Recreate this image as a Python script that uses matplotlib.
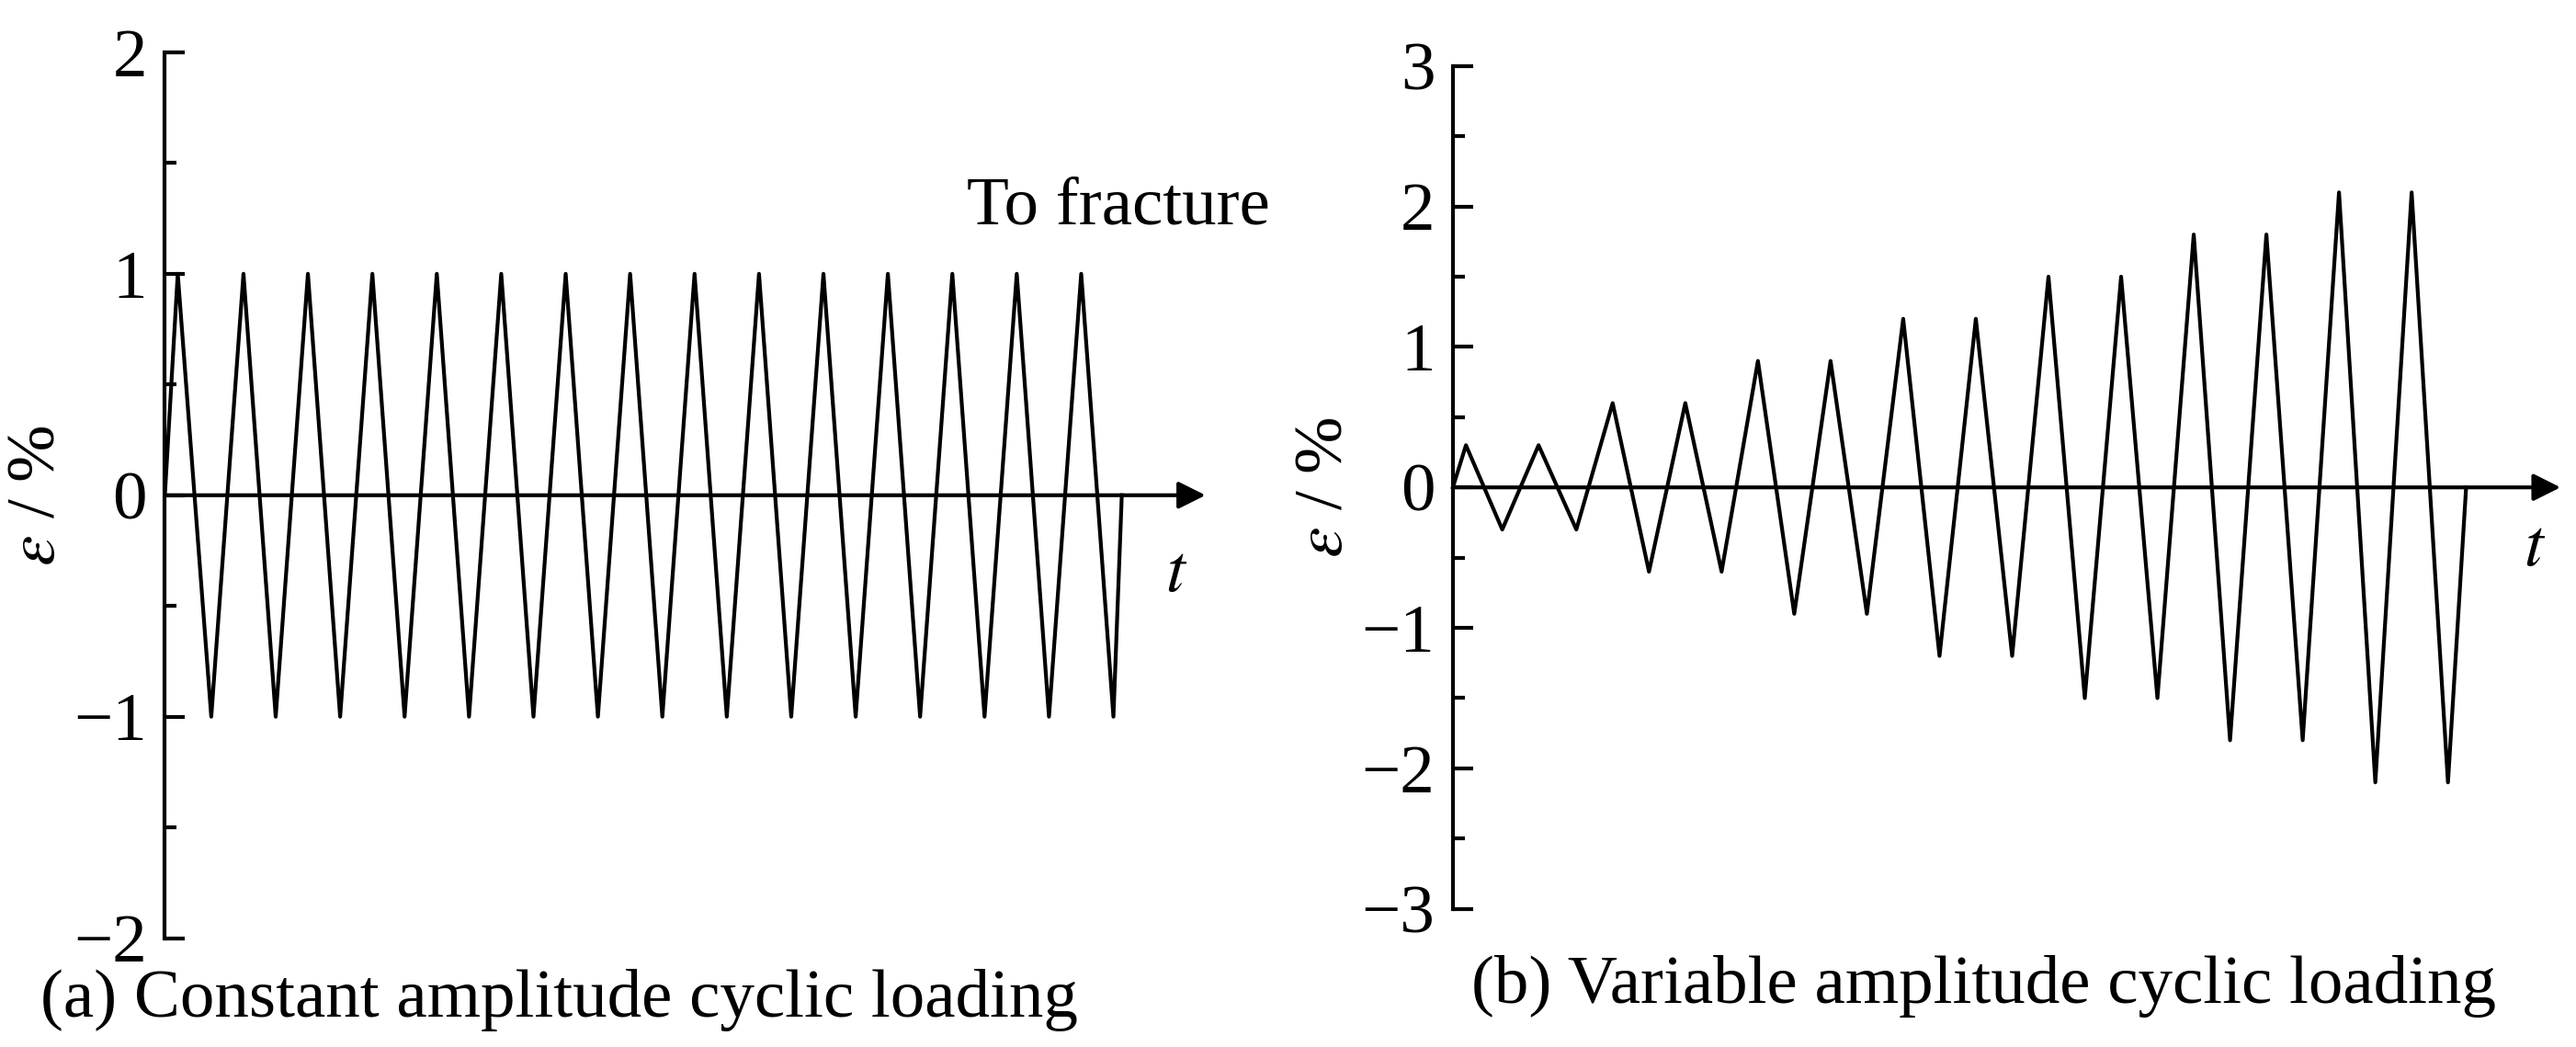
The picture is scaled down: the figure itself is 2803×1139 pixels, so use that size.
import matplotlib
matplotlib.use("Agg")
import matplotlib.pyplot as plt

plt.rcParams["font.family"] = ["Liberation Serif", "DejaVu Serif"]
plt.rcParams["mathtext.fontset"] = "stix"

# ---------------------------------------------------------------- data
# (a) constant amplitude: time in half-cycle units, strain in %
t_a = [0, 0.4] + [x + 0.44 for x in range(1, 30)] + [29.7]
e_a = [0, 1] + [(-1 if i % 2 else 1) for i in range(1, 30)] + [0]

# (b) variable amplitude: two cycles at each level
levels_b = [0.3, 0.6, 0.9, 1.2, 1.5, 1.8, 2.1]
t_b = [0, 0.36, 1.36, 2.36, 3.4, 4.4, 5.4, 6.4, 7.4, 8.4, 9.4, 10.4, 11.4,
       12.4, 13.4, 14.4, 15.4, 16.4, 17.4, 18.4, 19.4, 20.4, 21.4, 22.4,
       23.4, 24.4, 25.4, 26.4, 27.4, 27.9]
e_b = [0]
for a in levels_b:
    e_b += [a, -a, a, -a]
e_b += [0]
t_b = t_b[:len(e_b)]

LW = 3.0
FS = 54


def style(ax, lim, xmax):
    ax.set_ylim(-lim, lim)
    ax.set_xlim(0, xmax)
    for s in ["top", "right", "bottom"]:
        ax.spines[s].set_visible(False)
    ax.spines["left"].set_linewidth(LW)
    ax.set_xticks([])
    ax.set_yticks(range(-lim, lim + 1))
    ax.set_yticklabels([str(v).replace("-", "\u2212") for v in range(-lim, lim + 1)])
    ax.set_yticks([v / 2 for v in range(-2 * lim, 2 * lim + 1)], minor=True)
    ax.tick_params(axis="y", which="major", direction="in", length=16, width=LW,
                   labelsize=FS, pad=14)
    ax.tick_params(axis="y", which="minor", direction="in", length=9, width=LW)
    ax.annotate("", xy=(xmax, 0), xytext=(0, 0), annotation_clip=False,
                arrowprops=dict(arrowstyle="-|>", lw=LW, color="k",
                                mutation_scale=45, shrinkA=0, shrinkB=0))
    ax.set_ylabel(r"$\varepsilon$ / %", fontsize=FS, labelpad=4)


fig = plt.figure(figsize=(28.03, 11.39), dpi=100)

ax1 = fig.add_axes([0.064, 0.104, 0.404, 0.846])
ax1.plot(t_a, e_a, color="k", lw=LW, clip_on=False)
style(ax1, 2, 32.3)
ax1.text(31.4, -0.22, r"$t$", fontsize=FS, ha="center", va="top")
ax1.text(34.3, 1.3, "To fracture", fontsize=FS, ha="right", va="center")

ax2 = fig.add_axes([0.564, 0.132, 0.430, 0.805])
ax2.plot(t_b, e_b, color="k", lw=LW, clip_on=False)
style(ax2, 3, 30.5)
ax2.text(29.8, -0.22, r"$t$", fontsize=FS, ha="center", va="top")

fig.text(0.217, 0.045, "(a) Constant amplitude cyclic loading", fontsize=FS,
         ha="center", va="center")
fig.text(0.77, 0.058, "(b) Variable amplitude cyclic loading", fontsize=FS,
         ha="center", va="center")

fig.savefig("out.png", dpi=100)
